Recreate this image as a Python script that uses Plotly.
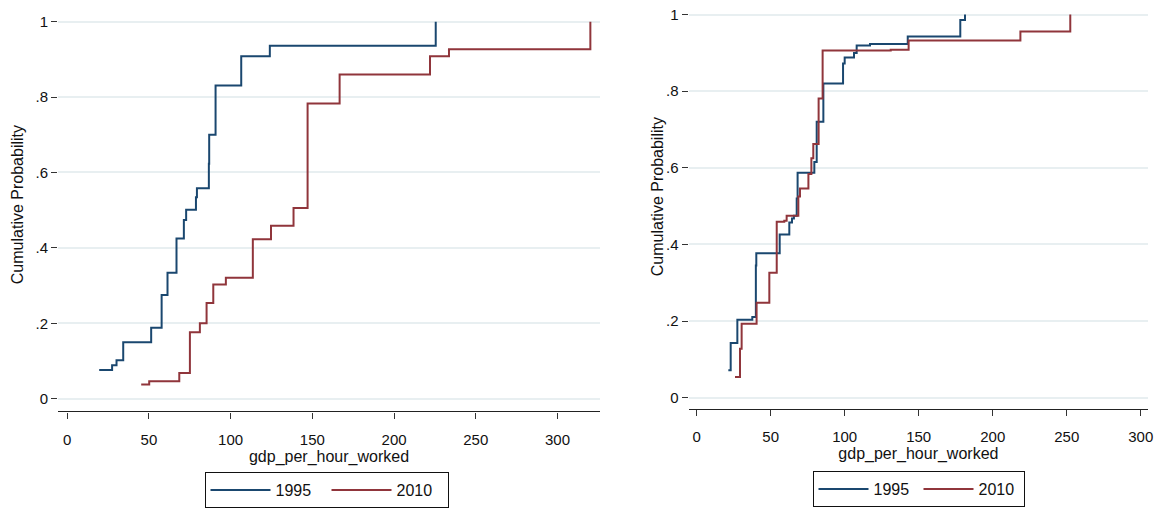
import plotly.graph_objects as go

# ---- data (x = gdp_per_hour_worked, p = cumulative probability) ----
left_1995_x = [19.6, 27.5, 30.2, 34.3, 51.4, 57.8, 61.4, 66.9, 71.4, 72.8, 78.8, 79.4, 86.7, 86.9, 90.8, 106.5, 124.0, 225.5]
left_1995_p = [0.076, 0.089, 0.102, 0.150, 0.188, 0.275, 0.334, 0.425, 0.474, 0.501, 0.534, 0.558, 0.623, 0.700, 0.831, 0.908, 0.936, 1.0]

left_2010_x = [45.3, 50.2, 68.6, 75.1, 81.2, 85.3, 89.4, 97.1, 113.6, 124.7, 138.5, 147.1, 166.7, 222.0, 233.6, 320.1]
left_2010_p = [0.038, 0.0465, 0.068, 0.176, 0.200, 0.254, 0.303, 0.321, 0.423, 0.459, 0.506, 0.783, 0.860, 0.908, 0.927, 1.0]

right_1995_x = [21.4, 23.0, 27.5, 37.6, 40.0, 40.3, 56.1, 62.6, 64.4, 65.7, 67.6, 68.2, 79.5, 81.1, 85.6, 98.9, 100.0, 106.3, 108.1, 117.1, 142.6, 178.1, 181.3]
right_1995_p = [0.072, 0.143, 0.2035, 0.2105, 0.345, 0.377, 0.426, 0.4575, 0.468, 0.475, 0.520, 0.587, 0.615, 0.720, 0.820, 0.872, 0.888, 0.900, 0.919, 0.923, 0.943, 0.986, 1.0]

right_2010_x = [25.9, 29.3, 30.4, 40.5, 49.1, 54.1, 59.2, 60.8, 68.7, 69.8, 75.5, 77.5, 78.8, 82.4, 85.1, 131.1, 143.2, 218.7, 252.4]
right_2010_p = [0.054, 0.128, 0.193, 0.248, 0.326, 0.459, 0.462, 0.475, 0.525, 0.546, 0.584, 0.625, 0.662, 0.781, 0.906, 0.908, 0.932, 0.956, 1.0]

series_names = ["1995", "2010"]
x_ticks = [0, 50, 100, 150, 200, 250, 300]
y_ticks = [0, 0.2, 0.4, 0.6, 0.8, 1.0]
y_ticktext = ["0", ".2", ".4", ".6", ".8", "1"]

BLUE = "#1a476f"
RED = "#90353b"
GRID = "#e8eff1"
FONT = "Liberation Sans, Arial, sans-serif"
W, H = 1155, 508

fig = go.Figure()

def add(x, p, name, color, xa, ya, legend):
    fig.add_trace(go.Scatter(
        x=x, y=p, mode="lines", line=dict(color=color, width=2, shape="hv"),
        name=name, xaxis=xa, yaxis=ya, legend=legend, showlegend=True))

add(left_1995_x, left_1995_p, series_names[0], BLUE, "x", "y", "legend")
add(left_2010_x, left_2010_p, series_names[1], RED, "x", "y", "legend")
add(right_1995_x, right_1995_p, series_names[0], BLUE, "x2", "y2", "legend2")
add(right_2010_x, right_2010_p, series_names[1], RED, "x2", "y2", "legend2")

def xax(domain, rng, anchor):
    return dict(domain=domain, range=rng, anchor=anchor, showline=True, linecolor="#222", linewidth=1.3,
                ticks="outside", ticklen=6, tickwidth=1.2, tickcolor="#333", ticklabelstandoff=8,
                tickvals=x_ticks, tickfont=dict(size=15, color="#111"), showgrid=False, zeroline=False,
                title=dict(text="gdp_per_hour_worked", font=dict(size=16, color="#111"), standoff=0))

def yax(domain, rng, anchor):
    return dict(domain=domain, range=rng, anchor=anchor, showline=False,
                ticks="outside", ticklen=6, tickwidth=1.2, tickcolor="#333",
                tickvals=y_ticks, ticktext=y_ticktext, tickfont=dict(size=15, color="#111"),
                showgrid=True, gridcolor=GRID, gridwidth=2, zeroline=False)

fig.update_layout(
    width=W, height=H, template="none",
    paper_bgcolor="white", plot_bgcolor="white",
    margin=dict(l=0, r=0, t=0, b=0),
    font=dict(family=FONT, size=16, color="#111"),
    xaxis=xax([58 / W, 600 / W], [-5.6, 326], "y"),
    yaxis=yax([(H - 413) / H, (H - 10) / H], [-0.0335, 1.031], "x"),
    xaxis2=xax([688.5 / W, 1148.3 / W], [-5.5, 305.1], "y2"),
    yaxis2=yax([(H - 410.7) / H, (H - 5) / H], [-0.0296, 1.025], "x2"),
    legend=dict(orientation="h", x=326.5 / W, xanchor="center", y=(H - 474) / H, yanchor="top",
                bordercolor="#111", borderwidth=1, bgcolor="white", entrywidth=46,
                font=dict(size=16), itemwidth=60),
    legend2=dict(orientation="h", x=918.5 / W, xanchor="center", y=(H - 473) / H, yanchor="top",
                 bordercolor="#111", borderwidth=1, bgcolor="white", entrywidth=40,
                 font=dict(size=16), itemwidth=50),
    annotations=[
        dict(text="Cumulative Probability", textangle=-90, xref="paper", yref="paper",
             x=17 / W, y=(H - 206) / H, xanchor="center", yanchor="middle", showarrow=False,
             font=dict(size=16, color="#111")),
        dict(text="Cumulative Probability", textangle=-90, xref="paper", yref="paper",
             x=657 / W, y=(H - 198) / H, xanchor="center", yanchor="middle", showarrow=False,
             font=dict(size=16, color="#111")),
    ],
)

fig.write_html("out.html")
